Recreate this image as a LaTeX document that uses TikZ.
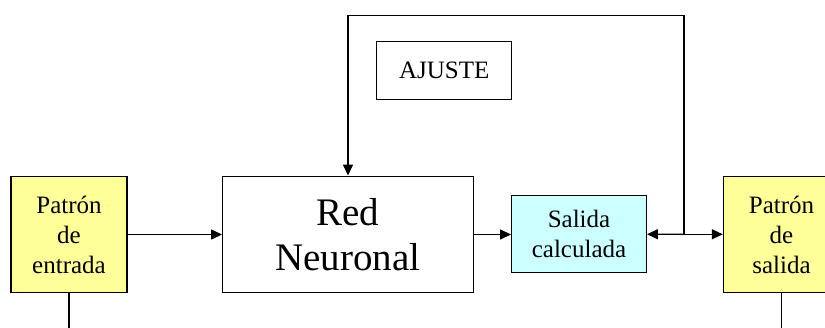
\documentclass[tikz,border=0pt]{standalone}
\usepackage{fontspec}
\setmainfont{LiberationSerif}[Extension=.ttf, UprightFont=*-Regular, BoldFont=*-Bold]
\usetikzlibrary{arrows.meta,calc}
\definecolor{padyellow}{RGB}{255,255,153}
\definecolor{outcyan}{RGB}{204,255,255}
\tikzset{
  block/.style={draw=black, line width=1.4pt, align=center, inner sep=0pt,
    font=\rmfamily\fontsize{25}{30}\selectfont},
  link/.style={line width=1.4pt, -{Triangle[length=11pt,width=10pt]}},
  wire/.style={line width=1.4pt}
}
\begin{document}
\begin{tikzpicture}[x=1pt,y=-1pt]
\useasboundingbox (0,0) rectangle (825,327);
\clip (0,0) rectangle (825,327);

% main blocks
\node[block, fill=padyellow, minimum width=116pt, minimum height=116.5pt]
  (pin) at (69,234.5) {Patrón\\de\\entrada};
\node[block, fill=white, minimum width=250.5pt, minimum height=116.5pt,
  font=\rmfamily\fontsize{39}{45}\selectfont]
  (red) at (348,234.5) {Red\\Neuronal};
\node[block, fill=outcyan, minimum width=134.5pt, minimum height=77pt]
  (sal) at (579,234.2) {Salida\\calculada};
\node[block, fill=padyellow, minimum width=116pt, minimum height=116.5pt]
  (pout) at (781.5,234.5) {Patrón\\de\\salida};
\node[block, fill=white, minimum width=135pt, minimum height=57.6pt]
  (aj) at (444.2,70.5) {AJUSTE};

% forward path
\draw[link] (pin) -- (red);
\draw[link] (red.east) -- (red.east -| sal.west);
\coordinate (j) at (684,234.3);
\draw[link] (j) -- (sal.east);
\draw[link] (j) -- (pout.west |- j);

% feedback loop
\coordinate (fbR) at (684,15.7);
\coordinate (fbL) at (red.north |- fbR);
\draw[link] (j) -- (fbR) -- (fbL) -- (red.north);

% lines leaving the bottom
\coordinate (inEnd) at (pin.south |- 0,330);
\coordinate (outEnd) at (pout.south |- 0,330);
\draw[wire] (pin.south) -- (inEnd);
\draw[wire] (pout.south) -- (outEnd);
\end{tikzpicture}
\end{document}
